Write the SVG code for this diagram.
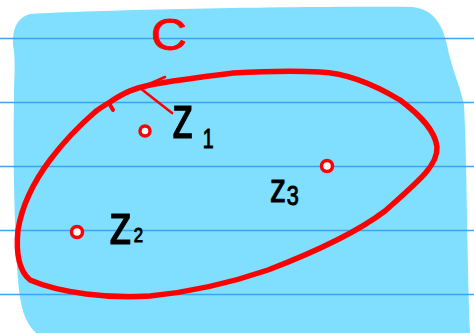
<svg xmlns="http://www.w3.org/2000/svg" width="474" height="333" viewBox="0 0 474 333">
<style>
.rule{stroke:#3ba3f2;stroke-width:1.6}
.red{fill:none;stroke:#ff0000;stroke-linecap:round;stroke-linejoin:round}
.pt{fill:#ffffff;stroke:#ff0000;stroke-width:3.5}
.lbl{font-family:"Liberation Sans",Arial,sans-serif;fill:#000;stroke:#000;stroke-width:1}
</style>
<rect width="474" height="333" fill="#ffffff"/>
<g id="paper">
<path d="M30,14 C100,10 300,6 412,7 C432,9 442,22 447,45 C452,70 460,85 464,105 C467,160 467,260 470,333 L36,333 C24,322 20,305 18,280 C14,220 13,150 14,100 C14,75 16,62 13,45 C12,28 18,17 30,14 Z" fill="#80dffe"/>
<line class="rule" x1="0" y1="38.5" x2="474" y2="38.5"/>
<line class="rule" x1="0" y1="102.5" x2="474" y2="102.5"/>
<line class="rule" x1="0" y1="166.5" x2="474" y2="166.5"/>
<line class="rule" x1="0" y1="230.5" x2="474" y2="230.5"/>
<line class="rule" x1="0" y1="294.5" x2="474" y2="294.5"/>
</g>
<g id="connectors">
<path id="contour" class="red" stroke-width="5.5" d="M110,102 C125,92 135,88 150,85 C175,80 200,77 233,73 C270,71 300,71 320,72 C345,73 370,82 400,100 C420,115 435,130 437,147 C438,165 420,180 385,211 C360,230 320,250 268,270 C230,283 190,292 150,296 C110,299 60,293 30,280 C18,270 16,250 18,230 C22,205 35,180 50,160 C65,140 80,125 95,112 C100,108 105,105 110,102"/>
<path class="red" stroke-width="2.6" d="M165,77 L140,88 L172,113"/>
<path class="red" stroke-width="4" d="M109,103 L113,110"/>
</g>
<g id="C"><text x="151" y="50" font-family="Liberation Sans,Arial,sans-serif" font-size="44" fill="#ff0000" stroke="#ff0000" stroke-width="0.8" textLength="36" lengthAdjust="spacingAndGlyphs">C</text></g>
<g id="z1">
<circle class="pt" cx="145" cy="131" r="5"/>
<text class="lbl" transform="translate(172,138) scale(0.7,1)" font-size="62">z<tspan x="44" y="10" font-size="28">1</tspan></text>
</g>
<g id="z2">
<circle class="pt" cx="77" cy="232" r="5.5"/>
<text class="lbl" transform="translate(109,244) scale(0.8,1)" font-size="58">z<tspan x="31" y="-2" font-size="21">2</tspan></text>
</g>
<g id="z3">
<circle class="pt" cx="327" cy="166" r="5.5"/>
<text class="lbl" transform="translate(270,202) scale(0.8,1)" font-size="40">z<tspan x="21" y="3" font-size="27">3</tspan></text>
</g>
</svg>
